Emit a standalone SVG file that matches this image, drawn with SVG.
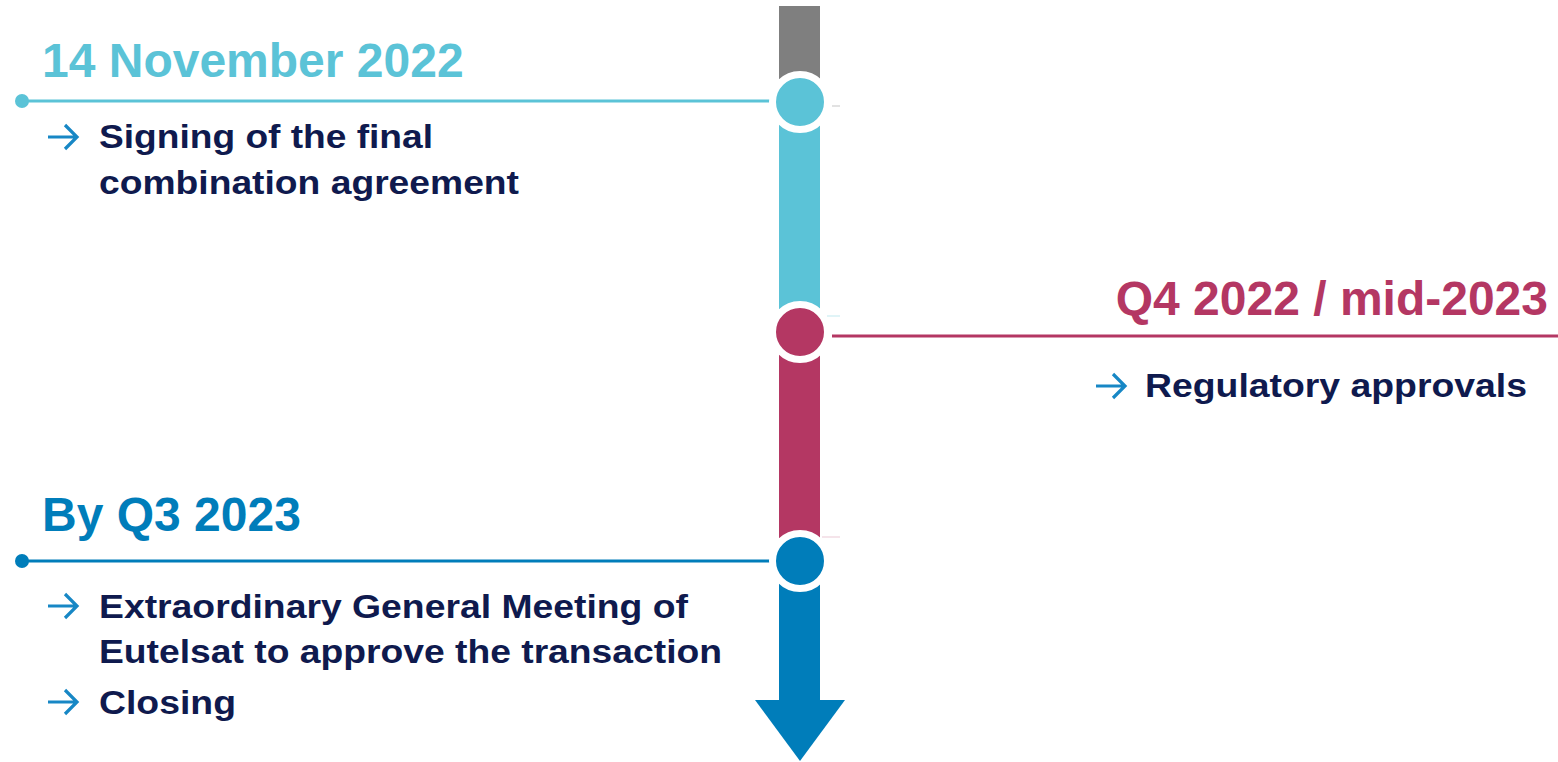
<svg xmlns="http://www.w3.org/2000/svg" width="1558" height="762" viewBox="0 0 1558 762">
<style>
.title{font-family:"Liberation Sans",Arial,sans-serif;font-weight:bold;font-size:48px}
.item{font-family:"Liberation Sans",Arial,sans-serif;font-weight:bold;font-size:34px;fill:#0f1a4e}
.bul{fill:none;stroke:#1787c5;stroke-width:3.2;stroke-linecap:butt}
.ring{stroke:#ffffff;stroke-width:7}
</style>
<defs>
<g id="bullet"><path class="bul" d="M0,0 H29 M17,-12 L29,0 L17,12"/></g>
</defs>
<rect width="1558" height="762" fill="#ffffff"/>
<g id="timeline-bar">
<rect x="779" y="6" width="41" height="80" fill="#7f7f7f"/>
<rect x="779" y="86" width="41" height="230" fill="#5bc3d7"/>
<rect x="779" y="316" width="41" height="222" fill="#b43763"/>
<rect x="779" y="538" width="41" height="163" fill="#007dba"/>
<polygon points="755,700 845,700 800,761" fill="#007dba"/>
<line x1="832" y1="106" x2="840" y2="106" stroke="#d9d9d9" stroke-width="1.5"/>
<line x1="827" y1="316" x2="840" y2="316" stroke="#d6f0f5" stroke-width="1.5"/>
<line x1="822" y1="537" x2="840" y2="537" stroke="#f2dbe3" stroke-width="1.5"/>
</g>
<g id="connectors">
<line x1="22" y1="101" x2="772" y2="101" stroke="#5bc3d7" stroke-width="3"/>
<circle cx="22" cy="101" r="7" fill="#5bc3d7"/>
<line x1="832" y1="336" x2="1558" y2="336" stroke="#b43763" stroke-width="3"/>
<line x1="22" y1="561" x2="770" y2="561" stroke="#007dba" stroke-width="3"/>
<circle cx="22" cy="561" r="7" fill="#007dba"/>
</g>
<g id="node-nov2022">
<circle class="ring" cx="800" cy="102" r="27.5" fill="#5bc3d7"/>
<text class="title" x="42" y="77" fill="#5bc3d7">14 November 2022</text>
<use href="#bullet" x="48" y="137"/>
<text class="item" x="99" y="148" textLength="334" lengthAdjust="spacingAndGlyphs">Signing of the final</text>
<text class="item" x="99" y="194" textLength="420" lengthAdjust="spacingAndGlyphs">combination agreement</text>
</g>
<g id="node-q4-2022">
<circle class="ring" cx="800" cy="332" r="27.5" fill="#b43763"/>
<text class="title" x="1548" y="315" fill="#b43763" text-anchor="end">Q4 2022 / mid-2023</text>
<use href="#bullet" x="1096" y="386"/>
<text class="item" x="1145" y="397" textLength="382" lengthAdjust="spacingAndGlyphs">Regulatory approvals</text>
</g>
<g id="node-q3-2023">
<circle class="ring" cx="800" cy="561" r="27.5" fill="#007dba"/>
<text class="title" x="42" y="531" fill="#007dba">By Q3 2023</text>
<use href="#bullet" x="48" y="606"/>
<text class="item" x="99" y="618" textLength="589" lengthAdjust="spacingAndGlyphs">Extraordinary General Meeting of</text>
<text class="item" x="99" y="663" textLength="623" lengthAdjust="spacingAndGlyphs">Eutelsat to approve the transaction</text>
<use href="#bullet" x="48" y="702"/>
<text class="item" x="99" y="714" textLength="137" lengthAdjust="spacingAndGlyphs">Closing</text>
</g>
</svg>
